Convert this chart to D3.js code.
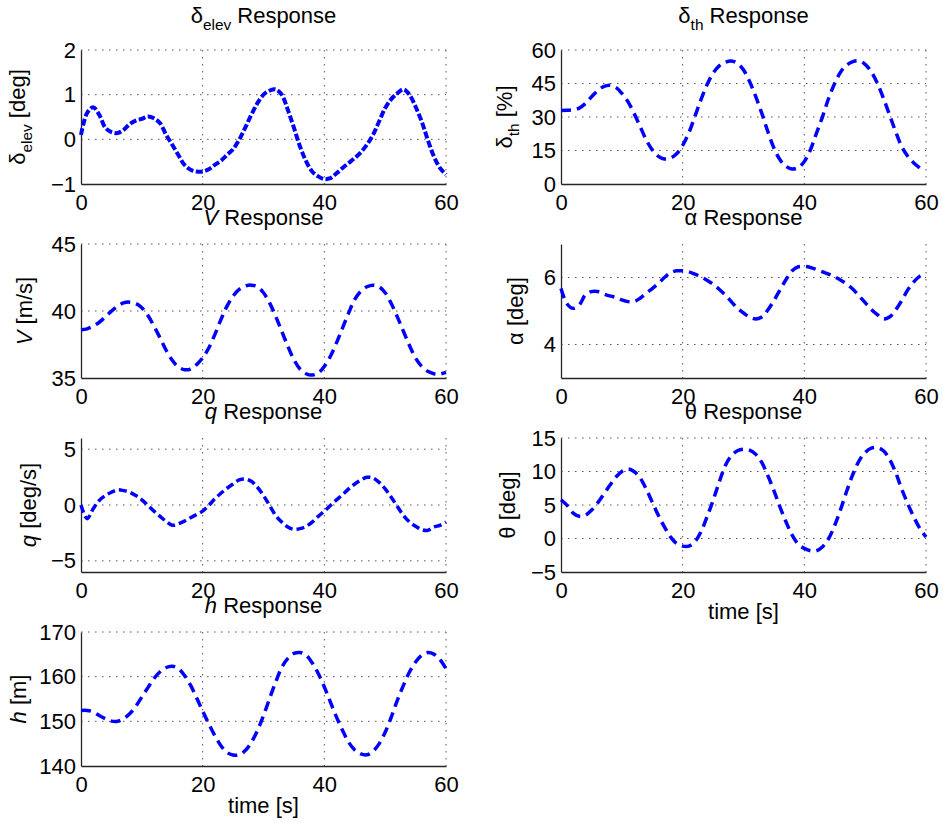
<!DOCTYPE html>
<html>
<head>
<meta charset="utf-8">
<script src="https://cdn.jsdelivr.net/npm/d3@7"></script>
<style>
    body { margin: 0; background: #fff; }
    text { font-family: "Liberation Sans", Arial, sans-serif; fill: #000; }
</style>
</head>
<body>
<svg id="chart" width="943" height="823"></svg>
<script>
"use strict";

const time = [0, 1, 2, 3, 4, 5, 6, 7, 8, 9, 10, 11, 12, 13, 14, 15, 16, 17, 18, 19, 20,
    21, 22, 23, 24, 25, 26, 27, 28, 29, 30, 31, 32, 33, 34, 35, 36, 37, 38, 39, 40,
    41, 42, 43, 44, 45, 46, 47, 48, 49, 50, 51, 52, 53, 54, 55, 56, 57, 58, 59, 60];

const elevDeg = [0.1, 0.59, 0.72, 0.55, 0.26, 0.16, 0.14, 0.21, 0.34, 0.42, 0.46, 0.51, 0.47, 0.36, 0.1,
    -0.12, -0.35, -0.57, -0.68, -0.72, -0.72, -0.67, -0.57, -0.48, -0.35, -0.22, -0.01, 0.26, 0.55, 0.81,
    1.0, 1.09, 1.12, 1.0, 0.66, 0.26, -0.16, -0.49, -0.72, -0.83, -0.89, -0.87, -0.76, -0.64, -0.53,
    -0.42, -0.29, -0.12, 0.1, 0.4, 0.7, 0.9, 1.03, 1.12, 1.0, 0.73, 0.4, -0.01, -0.38, -0.64, -0.79];

// throttle log stops one sample early
const throttlePct = [32.9, 33.0, 33.2, 34, 36, 39, 41.7, 43.6, 44.2, 43.3, 40.6, 36.9, 31.7, 25.8, 19.8,
    15.3, 12.4, 11.2, 11.6, 13.5, 17.3, 22.8, 30.2, 37.7, 44.4, 49.6, 52.9, 54.5, 55.1, 54,
    51.1, 45.9, 39.2, 31.7, 23.5, 16.1, 10.9, 7.9, 6.7, 7.4, 10.1, 15.3, 22.8, 30.2, 38.4,
    45.1, 50.3, 53.3, 54.8, 55.1, 53.6, 50.3, 45.1, 38.4, 31, 23.5, 16.8, 12.4, 9.4, 7.1];

const airspeed = [38.6, 38.67, 38.87, 39.16, 39.56, 39.99, 40.36, 40.61, 40.66, 40.56, 40.24, 39.66, 38.87,
    37.99, 37.07, 36.32, 35.82, 35.62, 35.67, 36.0, 36.5, 37.24, 38.24, 39.36, 40.36, 41.11, 41.61,
    41.86, 41.93, 41.81, 41.36, 40.61, 39.61, 38.49, 37.37, 36.37, 35.67, 35.32, 35.22, 35.37, 35.87,
    36.62, 37.62, 38.74, 39.86, 40.86, 41.48, 41.81, 41.93, 41.81, 41.36, 40.56, 39.56, 38.49, 37.42,
    36.49, 35.87, 35.5, 35.32, 35.3, 35.42];

const alphaDeg = [5.67, 5.21, 5.08, 5.18, 5.48, 5.58, 5.58, 5.51, 5.45, 5.41, 5.33, 5.28, 5.28, 5.38, 5.53,
    5.67, 5.82, 6.0, 6.14, 6.2, 6.2, 6.17, 6.1, 6.02, 5.92, 5.8, 5.65, 5.48, 5.28, 5.08,
    4.94, 4.82, 4.76, 4.82, 5.03, 5.31, 5.63, 5.94, 6.2, 6.32, 6.33, 6.3, 6.24, 6.17, 6.1,
    6.02, 5.92, 5.8, 5.65, 5.45, 5.25, 5.05, 4.89, 4.76, 4.82, 5.03, 5.31, 5.63, 5.87, 6.04, 6.12];

const pitchRate = [0, -1.23, -0.34, 0.4, 0.85, 1.14, 1.35, 1.29, 1.14, 0.85, 0.46, -0.04, -0.55, -1.02, -1.47,
    -1.82, -1.68, -1.44, -1.14, -0.85, -0.55, -0.04, 0.55, 1.05, 1.5, 1.88, 2.24, 2.33, 2.12, 1.59,
    0.85, -0.04, -0.93, -1.53, -1.97, -2.18, -2.12, -1.91, -1.53, -1.02, -0.55, -0.04, 0.46, 0.93, 1.44,
    1.88, 2.24, 2.48, 2.42, 2.03, 1.44, 0.7, -0.13, -0.93, -1.53, -1.91, -2.21, -2.27, -1.97, -1.82, -1.53];

const thetaDeg = [5.78, 4.94, 3.8, 3.31, 3.46, 4.2, 5.28, 6.57, 7.9, 9.14, 10.0, 10.37, 10.0, 9.04, 7.4,
    5.43, 3.46, 1.73, 0.25, -0.74, -1.14, -1.14, -0.49, 0.99, 3.21, 5.68, 8.4, 10.86, 12.35, 13.09,
    13.33, 13.19, 12.59, 11.36, 9.38, 7.16, 4.69, 2.47, 0.49, -0.84, -1.48, -1.83, -1.83, -1.23, 0,
    1.98, 4.44, 7.16, 9.63, 11.6, 12.84, 13.48, 13.58, 13.09, 11.85, 9.88, 7.41, 5.19, 3.21, 1.48, 0.25];

const altitude = [152.45, 152.45, 152.1, 151.3, 150.6, 150.05, 150.0, 150.6, 151.7, 153.35, 155.45, 157.55,
    159.6, 161.1, 162.05, 162.35, 161.8, 160.3, 158.1, 155.3, 152.3, 149.45, 146.8, 144.55, 143.05,
    142.45, 142.5, 143.45, 145.3, 147.95, 151.3, 155.1, 158.8, 162.05, 164.1, 165.2, 165.4, 164.8,
    163.1, 160.7, 157.7, 154.3, 150.95, 147.95, 145.3, 143.6, 142.7, 142.5, 143.3, 144.95, 147.55,
    150.95, 154.7, 158.05, 161.05, 163.3, 164.8, 165.4, 165.05, 163.85, 161.8];

const timeTicks = [0, 20, 40, 60];
const elevTicks = [-1, 0, 1, 2];
const throttleTicks = [0, 15, 30, 45, 60];
const airspeedTicks = [35, 40, 45];
const alphaTicks = [4, 6];
const pitchRateTicks = [-5, 0, 5];
const thetaTicks = [-5, 0, 5, 10, 15];
const altitudeTicks = [140, 150, 160, 170];

(function () {
    const svg = d3.select("#chart");
    const fontSize = 22;

    const colX = [81, 561];
    const rowY = [50, 244, 438, 632];
    const axW = 365;
    const axH = 134;

    // parts: [text, "n" | "i" | "s"]  (normal, italic, subscript)
    const panels = [
        { values: elevDeg, domain: [-1, 2], ticks: elevTicks, col: 0, row: 0, labelDx: -56, dash: "7,2.5", lw: 4,
          title: [["δ", "n"], ["elev", "s"], [" Response", "n"]], ylabel: [["δ", "n"], ["elev", "s"], [" [deg]", "n"]] },
        { values: throttlePct, domain: [0, 60], ticks: throttleTicks, col: 1, row: 0, labelDx: -49,
          title: [["δ", "n"], ["th", "s"], [" Response", "n"]], ylabel: [["δ", "n"], ["th", "s"], [" [%]", "n"]] },
        { values: airspeed, domain: [35, 45], ticks: airspeedTicks, col: 0, row: 1, labelDx: -49,
          title: [["V", "i"], [" Response", "n"]], ylabel: [["V", "i"], [" [m/s]", "n"]] },
        { values: alphaDeg, domain: [3, 7], ticks: alphaTicks, col: 1, row: 1, labelDx: -38,
          title: [["α Response", "n"]], ylabel: [["α [deg]", "n"]] },
        { values: pitchRate, domain: [-6, 6], ticks: pitchRateTicks, col: 0, row: 2, labelDx: -45, dash: "8,4",
          title: [["q", "i"], [" Response", "n"]], ylabel: [["q", "i"], [" [deg/s]", "n"]] },
        { values: thetaDeg, domain: [-5, 15], ticks: thetaTicks, col: 1, row: 2, labelDx: -46, xlabel: true,
          title: [["θ Response", "n"]], ylabel: [["θ [deg]", "n"]] },
        { values: altitude, domain: [140, 170], ticks: altitudeTicks, col: 0, row: 3, labelDx: -55, xlabel: true,
          title: [["h", "i"], [" Response", "n"]], ylabel: [["h", "i"], [" [m]", "n"]] }
    ];

    function richText(textSel, parts) {
        let shifted = false;
        for (let p of parts) {
            const span = textSel.append("tspan").text(p[0]);
            if (p[1] === "i") {
                span.attr("font-style", "italic");
            }
            if (p[1] === "s") {
                span.attr("font-size", fontSize * 0.7).attr("dy", fontSize * 0.3);
                shifted = true;
            } else if (shifted) {
                span.attr("dy", -fontSize * 0.3);
                shifted = false;
            }
        }
    }

    function hasSub(parts) {
        return parts.some(p => p[1] === "s");
    }

    for (let p of panels) {
        const x0 = colX[p.col];
        const y0 = rowY[p.row];
        const x = d3.scaleLinear().domain([0, 60]).range([x0, x0 + axW]);
        const y = d3.scaleLinear().domain(p.domain).range([y0 + axH, y0]);
        const g = svg.append("g");

        // dotted grid
        g.selectAll(".vgrid")
            .data(timeTicks.filter(t => t > 0))
            .enter().append("line")
            .attr("x1", d => x(d)).attr("x2", d => x(d))
            .attr("y1", y0).attr("y2", y0 + axH)
            .attr("stroke", "#555").attr("stroke-width", 1)
            .attr("stroke-dasharray", "1.5,5.5");
        g.selectAll(".hgrid")
            .data(p.ticks.filter(t => t !== p.domain[0]))
            .enter().append("line")
            .attr("x1", x0).attr("x2", x0 + axW)
            .attr("y1", d => y(d)).attr("y2", d => y(d))
            .attr("stroke", "#555").attr("stroke-width", 1)
            .attr("stroke-dasharray", "1.5,5.5");

        const xAxis = g.append("g")
            .attr("transform", `translate(0,${y0 + axH})`)
            .call(d3.axisBottom(x).tickValues(timeTicks).tickSize(0).tickPadding(10).tickFormat(d3.format("d")));
        const yAxis = g.append("g")
            .attr("transform", `translate(${x0},0)`)
            .call(d3.axisLeft(y).tickValues(p.ticks).tickSize(0).tickPadding(5).tickFormat(d3.format("d")));

        for (let ax of [xAxis, yAxis]) {
            ax.select(".domain").attr("stroke", "#262626").attr("stroke-width", 1.3);
            ax.selectAll("text")
                .attr("font-size", fontSize)
                .attr("font-family", "Liberation Sans, Arial, sans-serif")
                .attr("fill", "#000");
        }

        const line = d3.line()
            .x((d, i) => x(time[i]))
            .y(d => y(d))
            .curve(d3.curveCatmullRom);

        g.append("path")
            .datum(p.values)
            .attr("d", line)
            .attr("fill", "none")
            .attr("stroke", "#0000ff")
            .attr("stroke-width", p.lw || 3.5)
            .attr("stroke-dasharray", p.dash || "10,6");

        const title = g.append("text")
            .attr("x", x0 + axW / 2)
            .attr("y", y0 - (hasSub(p.title) ? 27 : 19))
            .attr("text-anchor", "middle")
            .attr("font-size", fontSize);
        richText(title, p.title);

        const ylab = g.append("text")
            .attr("transform", `translate(${x0 + p.labelDx},${y0 + axH / 2})rotate(-90)`)
            .attr("text-anchor", "middle")
            .attr("font-size", fontSize);
        richText(ylab, p.ylabel);

        if (p.xlabel) {
            g.append("text")
                .attr("x", x0 + axW / 2)
                .attr("y", y0 + axH + 47)
                .attr("text-anchor", "middle")
                .attr("font-size", fontSize)
                .text("time [s]");
        }
    }
})();
</script>
</body>
</html>
